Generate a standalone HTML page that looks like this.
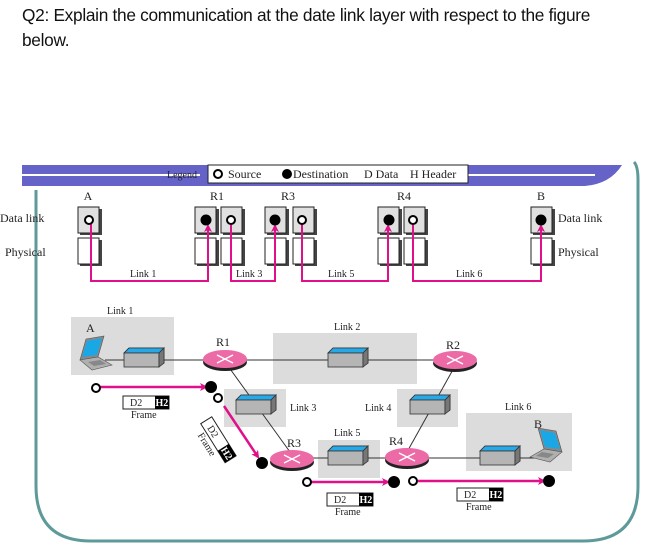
<!DOCTYPE html>
<html><head><meta charset="utf-8"><style>
html,body{margin:0;padding:0;background:#fff;}
body{width:658px;height:551px;overflow:hidden;position:relative;}
.t{position:absolute;left:22px;font-family:"Liberation Sans",sans-serif;font-size:17.3px;letter-spacing:-0.3px;color:#111;}
svg{position:absolute;left:0;top:0;}
svg text{font-family:"Liberation Serif",serif;}
.w{fill:#fff;font-weight:bold;}
</style></head><body>
<div class="t" style="top:5px">Q2: Explain the communication at the date link layer with respect to the figure</div>
<div class="t" style="top:30px">below.</div>
<svg width="658" height="551" viewBox="0 0 658 551">
<defs>
<marker id="ar" markerWidth="8" markerHeight="8" refX="6" refY="4" orient="auto" markerUnits="userSpaceOnUse"><path d="M0,0 L8,4 L0,8 L2,4z" fill="#e0108a"/></marker>
<g id="sw"><path d="M-20,-5 L-15,-10 L20,-10 L20,5 L-15,5z" fill="#9a9a9a" stroke="#333" stroke-width="0.8"/><path d="M-20,-5 L-15,-10 L20,-10 L15,-5z" fill="#27a9e8" stroke="#333" stroke-width="0.8"/><rect x="-20" y="-5" width="35" height="14" fill="#b5b5b5" stroke="#333" stroke-width="0.8"/><path d="M15,9 L20,5 L20,-10 L15,-5z" fill="#777" stroke="#333" stroke-width="0.8"/></g>
<g id="rt"><ellipse cx="0" cy="3" rx="22" ry="9" fill="#222"/><ellipse cx="0" cy="0" rx="22" ry="9" fill="#ec6aa6"/><path d="M-8,-4 L8,4 M-8,4 L8,-4" stroke="#fff" stroke-width="1.5"/></g>
<g id="lp"><path d="M10,0 L28,-3 L22,18 L4,21z" fill="#888" stroke="#555" stroke-width="0.6"/><path d="M11,2 L26,-1 L21,16 L6,18z" fill="#1aa7e6"/><path d="M4,21 L22,18 L36,26 L16,31z" fill="#b0b0b0" stroke="#555" stroke-width="0.6"/><path d="M12,23 L24,21 L30,25 L18,27z" fill="#888"/></g>
</defs>
<path d="M36,190 L36,486 Q36,541 91,541 L583,541 Q638,541 638,486 L638,180 Q638,166 634,162" fill="none" stroke="#5e9a99" stroke-width="3"/>
<path d="M22,165 L622,165 Q610,184 585,186 L22,186z" fill="#6663c8"/>
<line x1="22" y1="175" x2="200" y2="175" stroke="#fff" stroke-width="2"/>
<line x1="468" y1="175" x2="595" y2="175" stroke="#fff" stroke-width="2"/>
<text x="167" y="178" font-size="10" fill="#222">Legend</text>
<rect x="208" y="165" width="260" height="18" fill="#fff" stroke="#222" stroke-width="1"/>
<circle cx="218" cy="174" r="4" fill="#fff" stroke="#000" stroke-width="2"/>
<g font-size="12" fill="#222"><text x="228" y="178">Source</text>
<circle cx="287" cy="174" r="5" fill="#000"/>
<text x="293" y="178">Destination</text>
<text x="364" y="178">D Data</text>
<text x="410" y="178">H Header</text></g>
<g font-size="12" text-anchor="middle" fill="#222"><text x="88" y="200">A</text><text x="217" y="200">R1</text><text x="288" y="200">R3</text><text x="404" y="200">R4</text><text x="541" y="200">B</text></g>
<g font-size="12" fill="#222"><text x="0" y="222">Data link</text><text x="5" y="256">Physical</text>
<text x="558" y="222">Data link</text><text x="558" y="256">Physical</text></g>
<g stroke="#222" stroke-width="1">
<g fill="#444" stroke="none">
<rect x="80" y="209" width="22" height="26"/><rect x="80" y="240" width="22" height="26"/>
<rect x="197" y="209" width="22" height="26"/><rect x="197" y="240" width="22" height="26"/>
<rect x="223" y="209" width="22" height="26"/><rect x="223" y="240" width="22" height="26"/>
<rect x="267" y="209" width="22" height="26"/><rect x="267" y="240" width="22" height="26"/>
<rect x="295" y="209" width="22" height="26"/><rect x="295" y="240" width="22" height="26"/>
<rect x="380" y="209" width="22" height="26"/><rect x="380" y="240" width="22" height="26"/>
<rect x="406" y="209" width="22" height="26"/><rect x="406" y="240" width="22" height="26"/>
<rect x="533" y="209" width="22" height="26"/><rect x="533" y="240" width="22" height="26"/>
</g>
<rect x="78" y="207" width="21" height="26" fill="#e0e0e0"/><rect x="78" y="238" width="21" height="26" fill="#fff"/>
<rect x="195" y="207" width="21" height="26" fill="#e0e0e0"/><rect x="195" y="238" width="21" height="26" fill="#fff"/>
<rect x="221" y="207" width="21" height="26" fill="#e0e0e0"/><rect x="221" y="238" width="21" height="26" fill="#fff"/>
<rect x="265" y="207" width="21" height="26" fill="#e0e0e0"/><rect x="265" y="238" width="21" height="26" fill="#fff"/>
<rect x="293" y="207" width="21" height="26" fill="#e0e0e0"/><rect x="293" y="238" width="21" height="26" fill="#fff"/>
<rect x="378" y="207" width="21" height="26" fill="#e0e0e0"/><rect x="378" y="238" width="21" height="26" fill="#fff"/>
<rect x="404" y="207" width="21" height="26" fill="#e0e0e0"/><rect x="404" y="238" width="21" height="26" fill="#fff"/>
<rect x="531" y="207" width="21" height="26" fill="#e0e0e0"/><rect x="531" y="238" width="21" height="26" fill="#fff"/>
</g>
<g fill="none" stroke="#e0108a" stroke-width="2">
<path d="M91,220 V281 H208 V226" marker-end="url(#ar)"/>
<path d="M231,220 V281 H275 V226" marker-end="url(#ar)"/>
<path d="M302,220 V281 H388 V226" marker-end="url(#ar)"/>
<path d="M413,220 V281 H541 V226" marker-end="url(#ar)"/>
</g>
<g stroke="#000" stroke-width="2"><circle cx="89" cy="220" r="4" fill="#fff"/><circle cx="206" cy="220" r="4.5" fill="#000"/><circle cx="231" cy="220" r="4" fill="#fff"/><circle cx="275" cy="220" r="4.5" fill="#000"/><circle cx="302" cy="220" r="4" fill="#fff"/><circle cx="389" cy="220" r="4.5" fill="#000"/><circle cx="413" cy="220" r="4" fill="#fff"/><circle cx="541" cy="220" r="4.5" fill="#000"/></g>
<g font-size="10" fill="#222"><text x="130" y="277">Link 1</text><text x="236" y="277">Link 3</text><text x="328" y="277">Link 5</text><text x="456" y="277">Link 6</text></g>
<g fill="#dcdcdc"><rect x="71" y="317" width="103" height="58"/><rect x="273" y="333" width="144" height="51"/><rect x="224" y="389" width="62" height="38"/><rect x="318" y="440" width="62" height="38"/><rect x="397" y="389" width="61" height="38"/><rect x="466" y="413" width="106" height="58"/></g>
<g stroke="#333" stroke-width="1"><line x1="105" y1="360" x2="455" y2="360"/><line x1="228" y1="366" x2="290" y2="452"/><line x1="455" y1="366" x2="407" y2="452"/><line x1="292" y1="458" x2="535" y2="458"/></g>
<use href="#lp" x="76" y="339"/>
<use href="#lp" transform="translate(566,431) scale(-1,1)"/>
<use href="#sw" x="144" y="358"/><use href="#sw" x="348" y="358"/><use href="#sw" x="256" y="405"/><use href="#sw" x="430" y="405"/><use href="#sw" x="348" y="456"/><use href="#sw" x="500" y="456"/>
<use href="#rt" x="225" y="359"/><use href="#rt" x="455" y="360"/><use href="#rt" x="292" y="459"/><use href="#rt" x="407" y="457"/>
<g font-size="10" fill="#222"><text x="107" y="314">Link 1</text><text x="334" y="330">Link 2</text><text x="290" y="411">Link 3</text><text x="365" y="411">Link 4</text><text x="334" y="436">Link 5</text><text x="505" y="410">Link 6</text></g>
<g font-size="12" fill="#222"><text x="86" y="332">A</text><text x="216" y="346">R1</text><text x="446" y="349">R2</text><text x="287" y="447">R3</text><text x="389" y="445">R4</text><text x="534" y="428">B</text></g>
<g stroke="#e0108a" stroke-width="2.5" fill="none">
<line x1="100" y1="387" x2="206" y2="387" marker-end="url(#ar)"/>
<line x1="224" y1="406" x2="258" y2="457" marker-end="url(#ar)"/>
<line x1="311" y1="482" x2="388" y2="482" marker-end="url(#ar)"/>
<line x1="418" y1="481" x2="544" y2="481" marker-end="url(#ar)"/>
</g>
<g stroke="#000" stroke-width="2"><circle cx="96" cy="388" r="4" fill="#fff"/><circle cx="211" cy="387" r="5" fill="#000"/><circle cx="218" cy="398" r="4" fill="#fff"/><circle cx="262" cy="463" r="5" fill="#000"/><circle cx="307" cy="482" r="4" fill="#fff"/><circle cx="394" cy="482" r="5" fill="#000"/><circle cx="413" cy="481" r="4" fill="#fff"/><circle cx="549" cy="481" r="5" fill="#000"/></g>
<g font-size="10" fill="#222">
<rect x="123" y="396" width="46" height="13" fill="#fff" stroke="#222"/><rect x="155" y="396" width="14" height="13" fill="#000"/><text x="130" y="406">D2</text><text x="155.5" y="406" class="w">H2</text><text x="131" y="418">Frame</text>
<rect x="327" y="493" width="46" height="13" fill="#fff" stroke="#222"/><rect x="359" y="493" width="14" height="13" fill="#000"/><text x="334" y="503">D2</text><text x="359.5" y="503" class="w">H2</text><text x="335" y="515">Frame</text>
<rect x="457" y="488" width="46" height="13" fill="#fff" stroke="#222"/><rect x="489" y="488" width="14" height="13" fill="#000"/><text x="464" y="498">D2</text><text x="489.5" y="498" class="w">H2</text><text x="466" y="510">Frame</text>
<g transform="translate(218,440) rotate(58)"><rect x="-23" y="-7" width="46" height="13" fill="#fff" stroke="#222"/><rect x="9" y="-7" width="14" height="13" fill="#000"/><text x="-16" y="3">D2</text><text x="9.5" y="3" class="w">H2</text><text x="-15" y="15">Frame</text></g>
</g>
</svg>
</body></html>
